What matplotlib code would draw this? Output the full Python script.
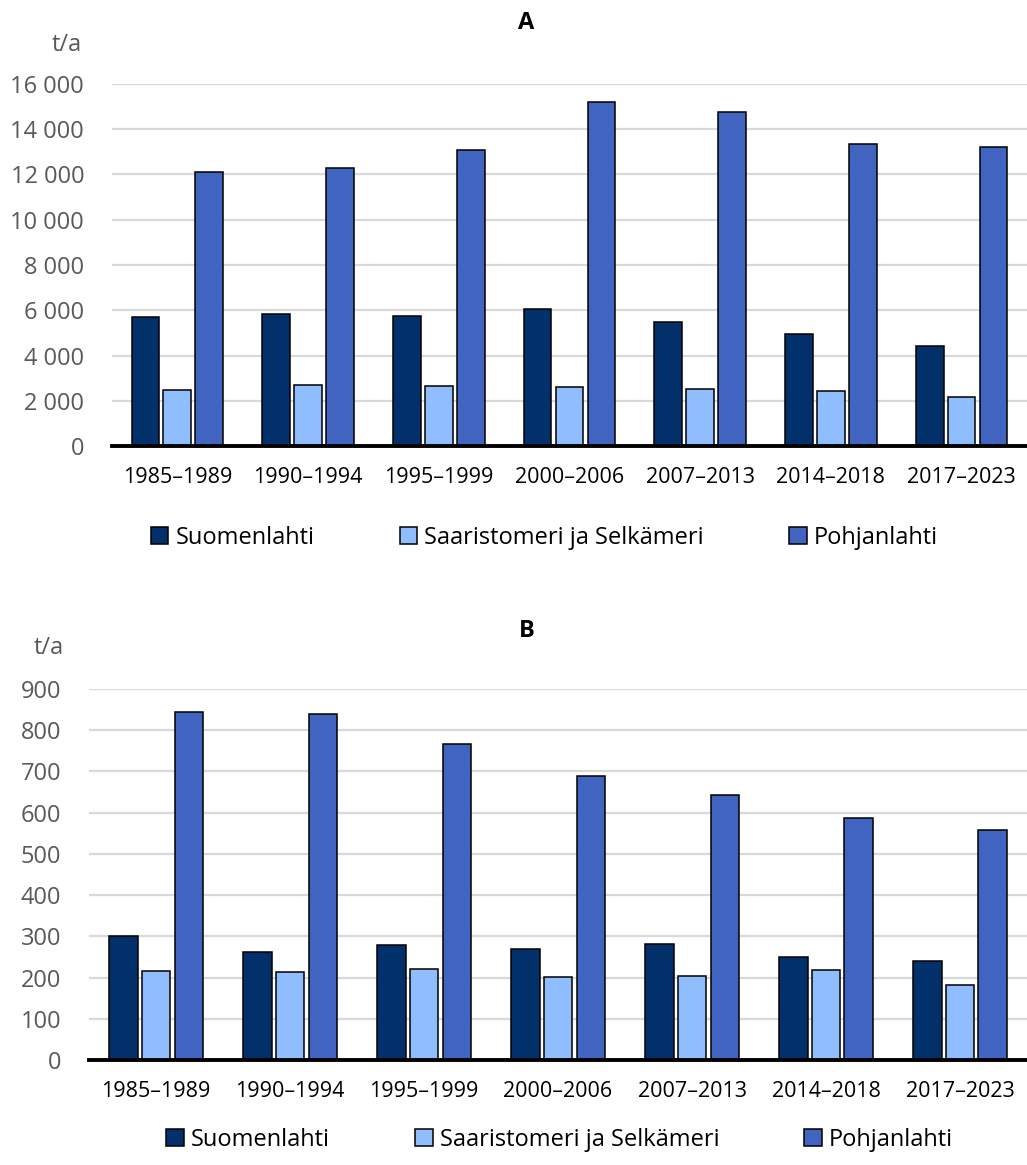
import matplotlib.pyplot as plt
from matplotlib.ticker import FuncFormatter
from matplotlib import font_manager
import numpy as np

periods = ['1985–1989', '1990–1994', '1995–1999', '2000–2006',
           '2007–2013', '2014–2018', '2017–2023']
series = ['Suomenlahti', 'Saaristomeri ja Selkämeri', 'Pohjanlahti']
colors = ['#02306b', '#8fbdfd', '#4164c1']

# A, t/a
a_suomenlahti = [5700, 5850, 5750, 6050, 5470, 4960, 4420]
a_saaristomeri = [2480, 2700, 2650, 2610, 2510, 2420, 2170]
a_pohjanlahti = [12100, 12300, 13100, 15190, 14750, 13360, 13200]

# B, t/a
b_suomenlahti = [301, 263, 279, 270, 281, 251, 239]
b_saaristomeri = [215, 213, 221, 202, 205, 219, 181]
b_pohjanlahti = [844, 839, 766, 688, 644, 587, 559]

names = [f.name for f in font_manager.fontManager.ttflist]
fam = 'Liberation Sans Narrow' if 'Liberation Sans Narrow' in names else 'Open Sans'
plt.rcParams['font.family'] = [fam, 'DejaVu Sans']

fig = plt.figure(figsize=(10.27, 11.65), dpi=100)


def fmt(v, pos):
    return '{:,}'.format(int(v)).replace(',', ' ')


def panel(rect, data, ymax, step, title, title_y, unit_x, unit_y, leg_y, leg_x):
    ax = fig.add_axes(rect)
    x = np.arange(len(periods))
    off = 0.244
    for i, (vals, c, lab) in enumerate(zip(data, colors, series)):
        ax.bar(x + (i - 1) * off, vals, width=0.212, color=c, edgecolor='black',
               linewidth=1.1, label=lab, zorder=3)
    ax.set_xlim(-0.5, len(periods) - 0.5)
    ax.set_ylim(0, ymax)
    ax.set_yticks(np.arange(0, ymax + 1, step))
    ax.yaxis.set_major_formatter(FuncFormatter(fmt))
    ax.set_xticks(x)
    ax.set_xticklabels(periods)
    ax.tick_params(axis='y', length=0, labelsize=17, labelcolor='#595959', pad=20)
    ax.tick_params(axis='x', length=0, labelsize=15.5, labelcolor='black', pad=15)
    ax.grid(axis='y', color='#d9d9d9', linewidth=1.6, zorder=0)
    ax.set_axisbelow(True)
    for s in ['top', 'right', 'left']:
        ax.spines[s].set_visible(False)
    ax.spines['bottom'].set_linewidth(2.8)
    ax.spines['bottom'].set_zorder(4)
    fig.text(0.5125, title_y, title, ha='center', va='center', fontsize=17,
             fontweight='bold')
    fig.text(unit_x, unit_y, 't/a', ha='center', va='center', fontsize=17,
             color='#595959')
    handles, labels = ax.get_legend_handles_labels()
    fig.legend(handles, labels, loc='center', bbox_to_anchor=(leg_x, leg_y),
               ncol=3, frameon=False, fontsize=17, handlelength=0.75,
               handleheight=0.75, handletextpad=0.3, columnspacing=3.6)
    return ax


panel([0.109, 0.617, 0.891, 0.311],
      [a_suomenlahti, a_saaristomeri, a_pohjanlahti], 16000, 2000,
      'A', 1 - 23 / 1165, 67 / 1027, 1 - 45 / 1165, 1 - 538 / 1165, 0.53)
panel([0.0867, 0.0901, 0.9133, 0.3185],
      [b_suomenlahti, b_saaristomeri, b_pohjanlahti], 900, 100,
      'B', 1 - 631 / 1165, 49 / 1027, 1 - 648 / 1165, 1 - 1140 / 1165, 0.545)

fig.savefig('out.png', dpi=100)
